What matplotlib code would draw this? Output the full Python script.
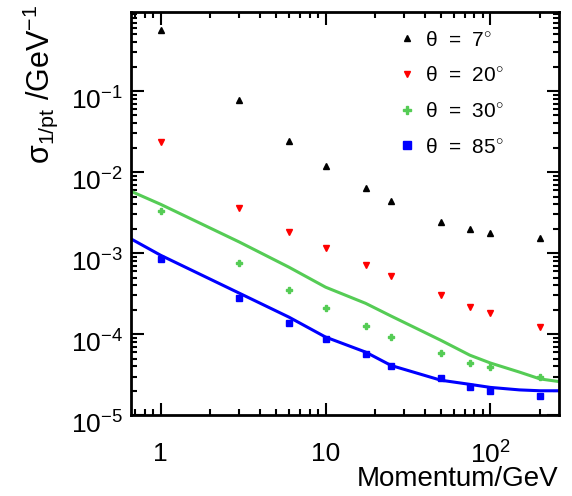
import numpy as np
import matplotlib.pyplot as plt
import matplotlib.ticker as mticker
from matplotlib.transforms import ScaledTranslation

plt.rcParams['font.family'] = ['Liberation Sans', 'DejaVu Sans']
plt.rcParams['mathtext.fontset'] = 'custom'
plt.rcParams['mathtext.rm'] = 'Liberation Sans'
plt.rcParams['mathtext.it'] = 'Liberation Sans'

# momentum points (GeV)
p = [1, 3, 6, 10, 17.5, 25, 50, 75, 100, 200]

# resolution sigma(1/pt) for each polar angle
sig_7 = [0.57, 0.078, 0.024, 0.0119, 0.0063, 0.0044, 0.0024, 0.00198, 0.00177, 0.00153]
sig_20 = [0.0234, 0.0036, 0.0018, 0.00115, 0.00071, 0.00052, 0.00030, 0.000215, 0.000182, 0.000122]
sig_30 = [0.0033, 0.00075, 0.00035, 0.00021, 0.000126, 9.2e-5, 5.8e-5, 4.4e-5, 3.9e-5, 2.94e-5]
sig_85 = [0.00084, 0.000278, 0.000137, 8.7e-5, 5.7e-5, 4.0e-5, 2.86e-5, 2.2e-5, 1.98e-5, 1.72e-5]

# parametrisation curves
p_fit = [0.66, 1, 3, 6, 10, 17.5, 25, 50, 75, 100, 150, 200, 260]
fit_30 = [0.0058, 0.0040, 0.00137, 0.00067, 0.00038, 0.00024, 0.000167, 8.4e-5, 5.5e-5, 4.4e-5, 3.4e-5, 2.8e-5, 2.6e-5]
fit_85 = [0.0015, 0.00094, 0.00032, 0.000162, 9.2e-5, 6.0e-5, 4.1e-5, 2.7e-5, 2.4e-5, 2.2e-5, 2.05e-5, 2.0e-5, 2.0e-5]

green = '#55cc55'
blue = '#0000ff'

fig = plt.figure(figsize=(5.72, 4.96), dpi=100)
ax = fig.add_axes([0.229, 0.163, 0.748, 0.813])

ax.plot(p_fit, fit_30, '-', color=green, lw=2.2)
ax.plot(p_fit, fit_85, '-', color=blue, lw=2.2)

ax.plot(p, sig_7, '^', color='black', ms=4, ls='none', label='θ  =  7$^{\\circ}$')
ax.plot(p, sig_20, 'v', color='#ff0000', ms=4, ls='none', label='θ  =  20$^{\\circ}$')
ax.plot(p, sig_30, 'P', color=green, ms=5, ls='none', label='θ  =  30$^{\\circ}$')
ax.plot(p, sig_85, 's', color=blue, ms=5, ls='none', label='θ  =  85$^{\\circ}$')

ax.set_xscale('log')
ax.set_yscale('log')
ax.set_xlim(0.66, 260)
ax.set_ylim(1e-5, 0.95)

ax.set_xticks([1, 10, 100])
ax.set_xticklabels(['1', '10', '10$^{2}$'])
ax.xaxis.set_minor_formatter(mticker.NullFormatter())
ax.yaxis.set_major_locator(mticker.LogLocator(base=10, numticks=10))
ax.yaxis.set_minor_locator(mticker.LogLocator(base=10, subs=np.arange(2, 10), numticks=10))

ax.tick_params(which='both', direction='in', top=True, right=True, width=1.5)
ax.tick_params(which='major', length=9, labelsize=19)
ax.tick_params(which='minor', length=4.5)
ax.tick_params(axis='x', pad=19)
ax.tick_params(axis='y', pad=6)
for s in ax.spines.values():
    s.set_linewidth(2)

fig.canvas.draw()
# y tick labels sit a little below their ticks
for lab in ax.get_yticklabels():
    lab.set_transform(lab.get_transform() + ScaledTranslation(0, -5 / 72, fig.dpi_scale_trans))

ax.set_xlabel('Momentum/GeV', fontsize=20, loc='right', labelpad=-2)
ax.set_ylabel('σ$_{\\mathrm{1/pt}}$ /GeV$^{-1}$', fontsize=22, loc='top')
ax.yaxis.set_label_coords(-0.213, 1.017)
ax.yaxis.label.set_va('center')

ax.legend(loc='upper left', bbox_to_anchor=(0.565, 1.0), frameon=False, fontsize=15,
          handletextpad=0.1, labelspacing=0.8, markerscale=1.2, handlelength=1.5)

plt.savefig('out.png', dpi=100)
